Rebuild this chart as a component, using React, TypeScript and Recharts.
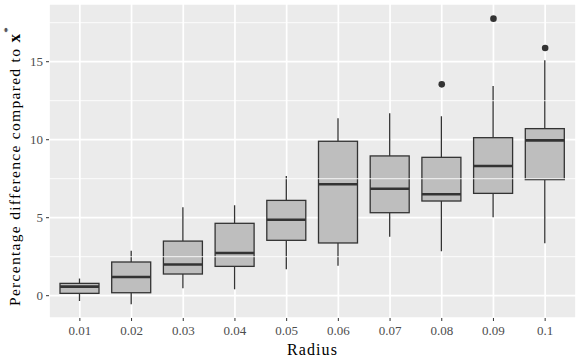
import React from "react";
import {
  ComposedChart,
  Bar,
  Scatter,
  XAxis,
  YAxis,
  CartesianGrid,
  ReferenceLine,
  Label,
} from "recharts";

const categories = ["0.01", "0.02", "0.03", "0.04", "0.05", "0.06", "0.07", "0.08", "0.09", "0.1"];
const whiskerLow = [-0.34, -0.55, 0.47, 0.41, 1.69, 1.92, 3.78, 2.85, 5.03, 3.36];
const q1 = [0.15, 0.19, 1.39, 1.88, 3.55, 3.38, 5.32, 6.07, 6.56, 7.44];
const median = [0.58, 1.2, 2.0, 2.74, 4.87, 7.14, 6.86, 6.5, 8.31, 9.96];
const q3 = [0.79, 2.16, 3.5, 4.64, 6.11, 9.9, 8.96, 8.87, 10.13, 10.71];
const whiskerHigh = [1.1, 2.88, 5.67, 5.8, 7.67, 11.37, 11.69, 11.5, 13.44, 15.09];
const outliers: (number | null)[] = [null, null, null, null, null, null, null, 13.55, 17.76, 15.88];
const yTicks = [0, 5, 10, 15];
const yMinor = [2.5, 7.5, 12.5, 17.5];

const data = categories.map((c, i) => ({
  cat: c,
  range: [whiskerLow[i], whiskerHigh[i]],
  low: whiskerLow[i],
  q1: q1[i],
  median: median[i],
  q3: q3[i],
  high: whiskerHigh[i],
  outlier: outliers[i],
}));

const FONT = "'Liberation Serif', serif";
const DARK = "#333333";

const BoxShape = (props: any) => {
  const { x, y, width, height, payload } = props;
  if (x == null || y == null) return <g />;
  const top = y;
  const bot = y + height;
  const hi = payload.high;
  const lo = payload.low;
  const pix = (v: number) => top + ((hi - v) / (hi - lo)) * (bot - top);
  const cx = x + width / 2;
  const yq3 = pix(payload.q3);
  const yq1 = pix(payload.q1);
  const ymed = pix(payload.median);
  return (
    <g>
      <line x1={cx} x2={cx} y1={top} y2={yq3} stroke={DARK} strokeWidth={1.3} />
      <line x1={cx} x2={cx} y1={yq1} y2={bot} stroke={DARK} strokeWidth={1.3} />
      <rect x={x} y={yq3} width={width} height={yq1 - yq3} fill="#BEBEBE" stroke={DARK} strokeWidth={1.3} />
      <line x1={x} x2={x + width} y1={ymed} y2={ymed} stroke={DARK} strokeWidth={2.6} />
    </g>
  );
};

const OutlierShape = (props: any) => {
  const { cx, cy, payload } = props;
  if (payload == null || payload.outlier == null || cx == null || cy == null || isNaN(cy)) return <g />;
  return <circle cx={cx} cy={cy} r={3.3} fill={DARK} />;
};

const YTitle = () => {
  const cy = 166;
  const cx = 14;
  return (
    <text
      x={cx}
      y={cy}
      transform={`rotate(-90, ${cx}, ${cy})`}
      textAnchor="middle"
      dominantBaseline="central"
      fontFamily={FONT}
      fontSize={15.5}
      letterSpacing={1.3}
      fill="#000"
    >
      Percentage difference compared to{" "}
      <tspan fontWeight="bold" fontSize={17}>x</tspan>
      <tspan dy={-7} fontSize={11}>*</tspan>
    </text>
  );
};

const XTitle = (props: any) => {
  const vb = props.viewBox || {};
  const cx = (vb.x ?? 49) + (vb.width ?? 527) / 2;
  return (
    <text x={cx} y={349} textAnchor="middle" dominantBaseline="central" fontFamily={FONT} fontSize={16} letterSpacing={1.1} fill="#000">
      Radius
    </text>
  );
};

export default function App() {
  return (
    <div style={{ position: "absolute", left: 0, top: 0, width: 581, height: 358, background: "#fff" }}>
      <ComposedChart
        width={581}
        height={358}
        data={data}
        margin={{ top: 4, right: 5, left: 0, bottom: 0 }}
      >
        <CartesianGrid fill="#EBEBEB" stroke="#FFFFFF" strokeWidth={1.7} />
        {yMinor.map((v) => (
          <ReferenceLine key={v} y={v} stroke="#FFFFFF" strokeWidth={0.85} />
        ))}
        <XAxis
          dataKey="cat"
          type="category"
          height={40}
          padding={{ left: 5, right: 5 }}
          axisLine={false}
          tickLine={{ stroke: DARK, strokeWidth: 1 }}
          tickSize={3}
          tickMargin={5}
          tick={{ fill: "#4D4D4D", fontFamily: FONT, fontSize: 13 }}
          interval={0}
        >
          <Label content={<XTitle />} />
        </XAxis>
        <YAxis
          type="number"
          width={49}
          domain={[-1.43, 18.7]}
          ticks={yTicks}
          allowDataOverflow
          axisLine={false}
          tickLine={{ stroke: DARK, strokeWidth: 1 }}
          tickSize={3}
          tickMargin={3}
          tick={{ fill: "#4D4D4D", fontFamily: FONT, fontSize: 13 }}
        >
          <Label content={<YTitle />} />
        </YAxis>
        <Bar dataKey="range" barSize={39} shape={<BoxShape />} isAnimationActive={false} />
        <Scatter dataKey="outlier" shape={<OutlierShape />} isAnimationActive={false} />
      </ComposedChart>
    </div>
  );
}
